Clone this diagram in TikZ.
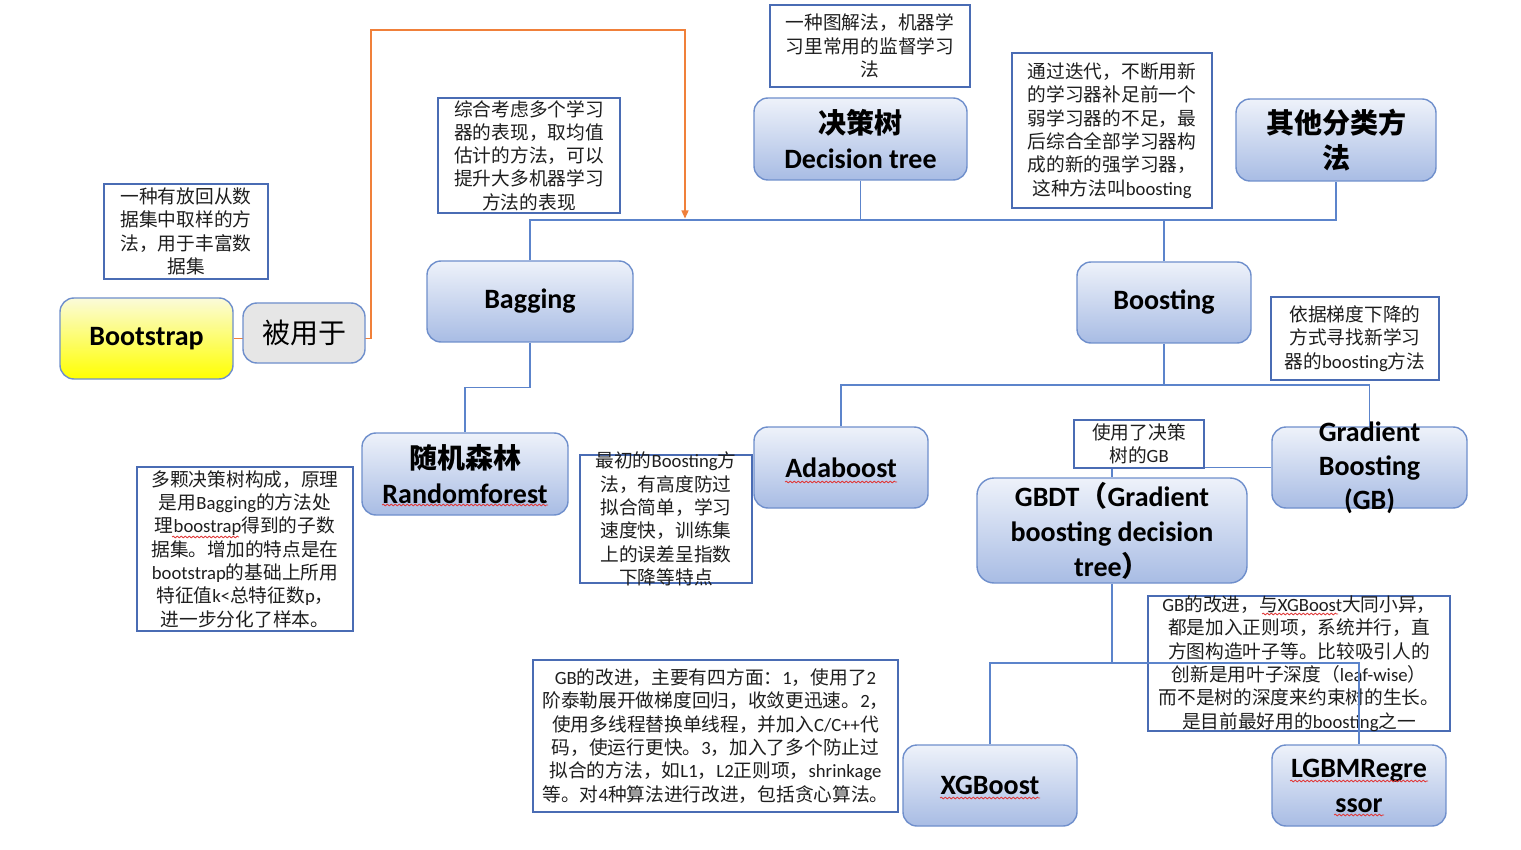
\documentclass[tikz,border=0pt]{standalone}
\usepackage{fontspec}
\setmainfont{Carlito}
\newfontfamily\zhfont{Noto Sans CJK SC}
\usetikzlibrary{arrows.meta,decorations.pathmorphing}
\XeTeXinterchartokenstate=1
\chardef\zhcls=7
\newcount\zhc
\def\setzhrange#1#2{\zhc=#1\relax\loop\XeTeXcharclass\zhc=\zhcls\ifnum\zhc<#2\advance\zhc by 1\repeat}
\setzhrange{"4E00}{"9FFF}
\setzhrange{"3000}{"303F}
\setzhrange{"FF00}{"FFEF}
\XeTeXinterchartoks 0 \zhcls = {\zhfont}
\XeTeXinterchartoks 4095 \zhcls = {\zhfont}
\XeTeXinterchartoks \zhcls 0 = {\rmfamily}
\XeTeXinterchartoks \zhcls 4095 = {\rmfamily}
\definecolor{gtop}{HTML}{EEF2FA}
\definecolor{gbot}{HTML}{A8BCE4}
\definecolor{nborder}{HTML}{6F8FCC}
\definecolor{tborder}{HTML}{4A6CB4}
\definecolor{conncol}{HTML}{5C84CB}
\definecolor{ocol}{HTML}{F0803A}
\definecolor{ttext}{HTML}{1E1E1E}
\definecolor{grayfill}{HTML}{E6E6E6}
\definecolor{ytop}{HTML}{FBFBDA}
\definecolor{ymid}{HTML}{FFFF3C}
\definecolor{spell}{HTML}{E03A3A}
\pgfdeclarelayer{bg}
\pgfsetlayers{bg,main}
\tikzset{
  wh/.style 2 args={minimum width=#1, minimum height=#2},
  rbox/.style={draw=nborder, line width=1.4pt, rounded corners=14pt, top color=gtop, bottom color=gbot, inner sep=0pt},
  tbox/.style={draw=tborder, line width=1.1pt, fill=white, inner sep=0pt},
  nlab/.style={font=\fontsize{28}{35}\selectfont\bfseries, align=center, text=black},
  tlab/.style={font=\fontsize{18.7}{23.3}\selectfont, align=center, text=ttext},
  conn/.style={draw=conncol, line width=1.4pt},
  oconn/.style={draw=ocol, line width=1.3pt},
  squiggle/.style={draw=spell, line width=0.8pt, decorate, decoration={snake, amplitude=0.9pt, segment length=4pt}}
}
\begin{document}
\begin{tikzpicture}[x=1pt,y=-1pt]
\begin{pgfonlayer}{bg}
\fill[white] (0,0) rectangle (1521,850);
\end{pgfonlayer}
\useasboundingbox (0,0) rectangle (1521,850);

% rounded nodes
\node[rbox, top color=ytop, middle color=ymid, bottom color=yellow, wh={173pt}{81pt}, label={[nlab]center:Bootstrap}] (boot) at (146.5,338.5) {};
\node[rbox, fill=grayfill, top color=grayfill, bottom color=grayfill, wh={122pt}{60pt}, label={[nlab, font=\fontsize{28}{35}\selectfont]center:被用于}] (used) at (304,333) {};
\node[rbox, wh={206pt}{81pt}, label={[nlab]center:Bagging}] (bag) at (530,301.5) {};
\node[rbox, wh={213pt}{82pt}, label={[nlab]center:{决策树\\Decision tree}}] (dt) at (860.5,139) {};
\node[rbox, wh={200pt}{82pt}, label={[nlab]center:{其他分类方\\法}}] (other) at (1336,140) {};
\node[rbox, wh={174pt}{81pt}, label={[nlab]center:Boosting}] (boost) at (1164,302.5) {};
\node[rbox, wh={206pt}{82pt}, label={[nlab]center:{随机森林\\Randomforest}}] (rf) at (465,474) {};
\node[rbox, wh={174pt}{81pt}, label={[nlab]center:Adaboost}] (ada) at (841,467.5) {};
\node[rbox, rounded corners=17pt, wh={270pt}{105pt}, label={[nlab]center:{GBDT（Gradient\\boosting decision\\tree）}}] (gbdt) at (1112,530.5) {};
\node[rbox, wh={195pt}{81pt}, label={[nlab, font=\fontsize{28}{34}\selectfont\bfseries]center:{Gradient\\Boosting\\(GB)}}] (gb) at (1369.5,467.5) {};
\node[rbox, wh={174pt}{81pt}, label={[nlab]center:XGBoost}] (xgb) at (990,785.5) {};
\node[rbox, wh={174pt}{81pt}, label={[nlab]center:{LGBMRegre\\ssor}}] (lgbm) at (1359,785.5) {};

% text boxes
\node[tbox, wh={164pt}{95pt}, label={[tlab]center:{一种有放回从数\\据集中取样的方\\法，用于丰富数\\据集}}] (tboot) at (186,231.5) {};
\node[tbox, wh={182pt}{115pt}, label={[tlab]center:{综合考虑多个学习\\器的表现，取均值\\估计的方法，可以\\提升大多机器学习\\方法的表现}}] (tbag) at (529,155.5) {};
\node[tbox, wh={200pt}{82pt}, label={[tlab]center:{一种图解法，机器学\\习里常用的监督学习\\法}}] (tdt) at (870,46) {};
\node[tbox, wh={200pt}{155pt}, label={[tlab]center:{通过迭代，不断用新\\的学习器补足前一个\\弱学习器的不足，最\\后综合全部学习器构\\成的新的强学习器，\\这种方法叫boosting}}] (tboost) at (1112,130.5) {};
\node[tbox, wh={168pt}{83pt}, label={[tlab]center:{依据梯度下降的\\方式寻找新学习\\器的boosting方法}}] (tgb) at (1355,338.5) {};
\node[tbox, wh={216pt}{164pt}, label={[tlab]center:{多颗决策树构成，原理\\是用Bagging的方法处\\理boostrap得到的子数\\据集。增加的特点是在\\bootstrap的基础上所用\\特征值k<总特征数p，\\进一步分化了样本。}}] (trf) at (245,549) {};
\node[tbox, wh={172pt}{128pt}, label={[tlab]center:{最初的Boosting方\\法，有高度防过\\拟合简单，学习\\速度快，训练集\\上的误差呈指数\\下降等特点}}] (tada) at (666,519) {};
\node[tbox, wh={130pt}{48pt}, label={[tlab]center:{使用了决策\\树的GB}}] (tgbdt) at (1139,444) {};
\node[tbox, wh={302pt}{135pt}, label={[tlab]center:{GB的改进，与XGBoost大同小异，\\都是加入正则项，系统并行，直\\方图构造叶子等。比较吸引人的\\创新是用叶子深度（leaf-wise）\\而不是树的深度来约束树的生长。\\是目前最好用的boosting之一}}] (tlgbm) at (1299,663.5) {};
\node[tbox, wh={365pt}{152pt}, label={[tlab]center:{GB的改进，主要有四方面：1，使用了2\\阶泰勒展开做梯度回归，收敛更迅速。2，\\使用多线程替换单线程，并加入C/C++代\\码，使运行更快。3，加入了多个防止过\\拟合的方法，如L1，L2正则项，shrinkage\\等。对4种算法进行改进，包括贪心算法。}}] (txgb) at (715.5,736) {};

% helper coordinates
\coordinate (topbus) at (0,220);
\coordinate (bbus) at (0,385);
\coordinate (gbus) at (0,663);
\coordinate (oc1) at (371,30);
\coordinate (oc2) at (685,30);
\coordinate (tgt) at (685,218.5);

\begin{pgfonlayer}{bg}
\draw[oconn, -{Triangle[length=8pt,width=7pt]}] (boot.east) -| (oc1) -- (oc2) -- (tgt);
\draw[conn] (gb.west) -| (gbdt.north);
\end{pgfonlayer}

% connectors
\draw[conn] (bag.north) |- (other.south |- topbus) -- (other.south);
\draw[conn] (dt.south) -- (dt.south |- topbus);
\draw[conn] (boost.north) -- (boost.north |- topbus);
\draw[conn] (bag.south) -- ++(0,45) -| (rf.north);
\draw[conn] (ada.north) |- (gb.north |- bbus) -- (gb.north);
\draw[conn] (boost.south) -- (boost.south |- bbus);
\draw[conn] (xgb.north) |- (lgbm.north |- gbus) -- (lgbm.north);
\draw[conn] (gbdt.south) -- (gbdt.south |- gbus);

% spell-check underlines
\draw[squiggle] (382,505) -- (548,505);
\draw[squiggle] (785,482) -- (897,482);
\draw[squiggle] (940,798) -- (1040,798);
\draw[squiggle] (1290,781) -- (1428,781);
\draw[squiggle] (1334,815) -- (1384,815);
\draw[squiggle] (172,537) -- (239,537);
\draw[squiggle] (1262,614) -- (1338,614);
\end{tikzpicture}
\end{document}
